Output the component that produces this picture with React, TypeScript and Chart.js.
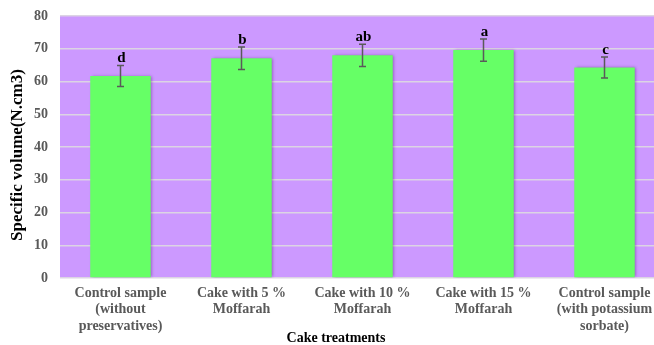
import React, { useEffect, useRef } from "react";
import { Chart, registerables } from "chart.js";

Chart.register(...registerables);

const categories: string[][] = [
  ["Control sample", "(without", "preservatives)"],
  ["Cake with 5 %", "Moffarah"],
  ["Cake with 10 %", "Moffarah"],
  ["Cake with 15 %", "Moffarah"],
  ["Control sample", "(with potassium", "sorbate)"],
];
const values: number[] = [61.7, 67.1, 68.0, 69.6, 64.3];
const errors: number[] = [3.2, 3.4, 3.4, 3.4, 3.2];
const letters: string[] = ["d", "b", "ab", "a", "c"];
const yTicks = { min: 0, max: 80, step: 10 };
const xTitle = "Cake treatments";
const yTitle = "Specific volume(N.cm3)";

const SERIF = "'Liberation Serif', 'Times New Roman', serif";

export default function App() {
  const ref = useRef<HTMLCanvasElement>(null);
  useEffect(() => {
    document.body.style.margin = "0";
    document.body.style.overflow = "hidden";
    const bgPlugin = {
      id: "bg",
      beforeDraw(chart: any) {
        const { ctx, chartArea: a } = chart;
        ctx.save();
        ctx.fillStyle = "#CC99FF";
        ctx.fillRect(a.left, a.top, a.right - a.left, a.bottom - a.top);
        ctx.restore();
      },
      beforeDatasetsDraw(chart: any) {
        const ctx = chart.ctx;
        ctx.save();
        ctx.shadowColor = "rgba(60,0,90,0.45)";
        ctx.shadowBlur = 3;
        ctx.shadowOffsetX = 1.5;
        ctx.shadowOffsetY = 0;
      },
      afterDatasetsDraw(chart: any) {
        const { ctx, scales } = chart;
        ctx.restore();
        const meta = chart.getDatasetMeta(0);
        const y = scales.y;
        ctx.save();
        meta.data.forEach((bar: any, i: number) => {
          const x = bar.x;
          const yt = y.getPixelForValue(values[i] + errors[i]);
          const yb = y.getPixelForValue(values[i] - errors[i]);
          ctx.strokeStyle = "#5a5a5a";
          ctx.lineWidth = 1.5;
          ctx.beginPath();
          ctx.moveTo(x, yt);
          ctx.lineTo(x, yb);
          ctx.moveTo(x - 3.5, yt);
          ctx.lineTo(x + 3.5, yt);
          ctx.moveTo(x - 3.5, yb);
          ctx.lineTo(x + 3.5, yb);
          ctx.stroke();
          ctx.fillStyle = "#000";
          ctx.font = `bold 15px ${SERIF}`;
          ctx.textAlign = "center";
          ctx.textBaseline = "alphabetic";
          ctx.fillText(letters[i], x + 1, yt - 3);
        });
        ctx.restore();
      },
      afterDraw(chart: any) {
        const ctx = chart.ctx;
        ctx.save();
        ctx.fillStyle = "#000";
        ctx.font = `bold 14px ${SERIF}`;
        ctx.textAlign = "center";
        ctx.textBaseline = "middle";
        ctx.fillText(xTitle, 336, 338);
        ctx.font = `bold 17px ${SERIF}`;
        ctx.translate(18, 155);
        ctx.rotate(-Math.PI / 2);
        ctx.fillText(yTitle, 0, 0);
        ctx.restore();
      },
    };
    const chart = new Chart(ref.current!, {
      type: "bar",
      data: {
        labels: categories,
        datasets: [
          {
            data: values,
            backgroundColor: "#66FF66",
            barPercentage: 0.5,
            categoryPercentage: 1,
          },
        ],
      },
      options: {
        animation: false,
        responsive: false,
        maintainAspectRatio: false,
        layout: { padding: { top: 16, right: 3, left: 0, bottom: 0 } },
        plugins: { legend: { display: false }, tooltip: { enabled: false } },
        scales: {
          x: {
            grid: { display: false, drawTicks: false },
            border: { display: false },
            ticks: {
              color: "#595959",
              font: { family: SERIF, size: 14, weight: "bold", lineHeight: 1.18 },
              maxRotation: 0,
              autoSkip: false,
              padding: 7,
            },
            afterFit(s: any) {
              s.height = 67;
              s.paddingLeft = 0;
              s.paddingRight = 0;
            },
          },
          y: {
            min: yTicks.min,
            max: yTicks.max,
            grid: { color: "#DCD4E4", lineWidth: 1.5, drawTicks: false },
            border: { display: false },
            ticks: {
              stepSize: yTicks.step,
              color: "#595959",
              font: { family: SERIF, size: 14, weight: "bold" },
              padding: 12,
            },
            afterFit(s: any) {
              s.width = 60;
              s.paddingTop = 0;
              s.paddingBottom = 0;
            },
          },
        },
      },
      plugins: [bgPlugin],
    });
    return () => chart.destroy();
  }, []);
  return (
    <div style={{ position: "fixed", left: 0, top: 0, width: 654, height: 345, overflow: "hidden", background: "#fff" }}>
      <canvas ref={ref} width={668} height={345} style={{ display: "block" }} />
    </div>
  );
}
